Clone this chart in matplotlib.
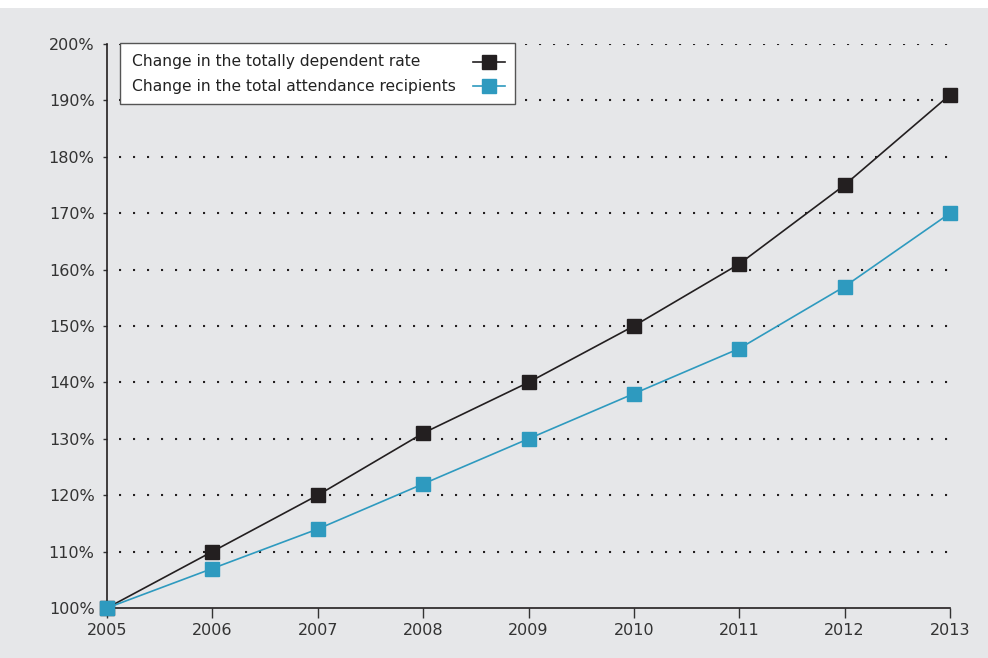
import matplotlib.pyplot as plt
from matplotlib.patches import Rectangle
from matplotlib.ticker import FuncFormatter

years = [2005, 2006, 2007, 2008, 2009, 2010, 2011, 2012, 2013]
dependent_rate = [100, 110, 120, 131, 140, 150, 161, 175, 191]
attendance_recipients = [100, 107, 114, 122, 130, 138, 146, 157, 170]
series_labels = ['Change in the totally dependent rate',
                 'Change in the total attendance recipients']
y_ticks = list(range(100, 201, 10))

bg = '#e6e7e9'
black = '#231f20'
blue = '#2e9abf'

fig = plt.figure(figsize=(9.88, 6.58), dpi=100, facecolor=bg)
fig.patches.append(Rectangle((0, 1 - 8 / 658), 1, 8 / 658, transform=fig.transFigure,
                             facecolor='white', edgecolor='none'))
ax = fig.add_axes([107 / 988, (658 - 608) / 658, (950 - 107) / 988, (608 - 44) / 658])
ax.set_facecolor(bg)

ax.plot(years, dependent_rate, color=black, lw=1.2, marker='s', ms=9.5,
        clip_on=False, zorder=3)
ax.plot(years, attendance_recipients, color=blue, lw=1.2, marker='s', ms=9.5,
        clip_on=False, zorder=4)

ax.set_xlim(2005, 2013)
ax.set_ylim(100, 200)
ax.set_xticks(years)
ax.set_yticks(y_ticks)
ax.yaxis.set_major_formatter(FuncFormatter(lambda v, p: f'{v:.0f}%'))
for y in y_ticks[1:]:
    ax.axhline(y, xmin=12 / 843, xmax=1.002, color=black, lw=1.5,
               linestyle=(0, (1, 5.72)), zorder=1)

for s in ['top', 'right']:
    ax.spines[s].set_visible(False)
for s in ['left', 'bottom']:
    ax.spines[s].set_color(black)
    ax.spines[s].set_linewidth(1.2)
ax.tick_params(axis='x', direction='out', length=7, width=1, colors='#333333',
               labelsize=11.5, pad=4)
ax.tick_params(axis='y', direction='out', length=3, width=1, colors='#333333',
               labelsize=11.5, pad=6)

# legend drawn by hand: text left, marker right
box = Rectangle((0.0154, 0.8936), 0.4686, 0.1082, transform=ax.transAxes,
                facecolor='white', edgecolor='#555555', lw=1, clip_on=False, zorder=5)
ax.add_patch(box)
for label, color, ypos in zip(series_labels, [black, blue], [0.9681, 0.9255]):
    ax.text(0.0297, ypos, label, transform=ax.transAxes, fontsize=11.2,
            color='#222222', va='center', ha='left', zorder=6)
    ax.plot([0.434, 0.472], [ypos, ypos], color=color, lw=1.2, transform=ax.transAxes,
            clip_on=False, zorder=6)
    ax.plot([0.453], [ypos], color=color, marker='s', ms=9.5, lw=0,
            transform=ax.transAxes, clip_on=False, zorder=7)

fig.savefig('out.png', dpi=100, facecolor=bg)
